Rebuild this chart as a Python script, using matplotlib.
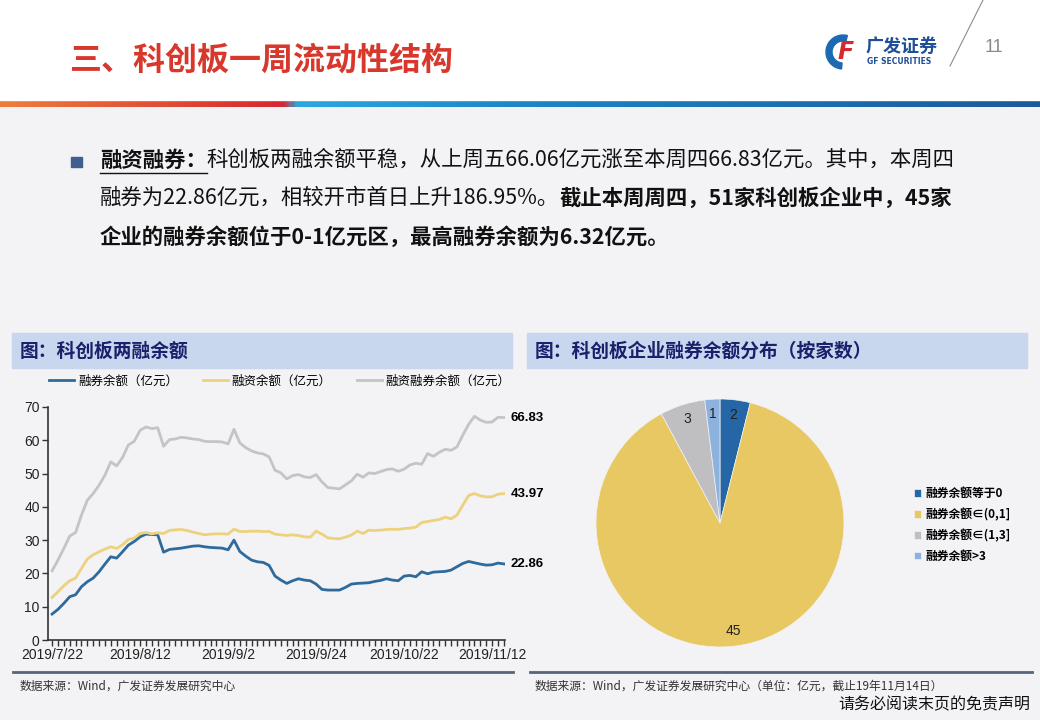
import numpy as np
import pandas as pd
import matplotlib
matplotlib.use("Agg")
import matplotlib.pyplot as plt
from matplotlib.patches import Rectangle, Wedge
from matplotlib.colors import LinearSegmentedColormap

plt.rcParams['font.family'] = ['Noto Sans CJK SC', 'DejaVu Sans']

W, H = 1040, 720

# 交易日（剔除中秋、国庆假期）
days = pd.bdate_range('2019-07-22', '2019-11-14')
holidays = pd.to_datetime(['2019-09-13', '2019-10-01', '2019-10-02',
                           '2019-10-03', '2019-10-04', '2019-10-07'])
days = days[~days.isin(holidays)]
tick_dates = ['2019-07-22', '2019-08-12', '2019-09-02', '2019-09-24', '2019-10-22', '2019-11-12']
tick_labels = ['2019/7/22', '2019/8/12', '2019/9/2', '2019/9/24', '2019/10/22', '2019/11/12']

# 融券余额（亿元）
rq = [7.8, 9.2, 11.0, 13.0, 13.6, 16.0, 17.5, 18.6, 20.5, 22.8,
      25.0, 24.6, 26.5, 28.5, 29.6, 31.0, 31.8, 31.7, 31.6, 26.4,
      27.2, 27.4, 27.6, 27.9, 28.2, 28.3, 28.0, 27.8, 27.7, 27.6,
      27.1, 30.0, 26.6, 25.2, 24.0, 23.5, 23.3, 22.4, 19.2, 18.0,
      17.0, 17.8, 18.4, 18.0, 17.8, 16.8, 15.2, 15.0, 15.0, 15.0,
      15.8, 16.8, 17.0, 17.1, 17.2, 17.6, 17.9, 18.4, 18.0, 17.8,
      19.2, 19.4, 19.0, 20.5, 19.9, 20.4, 20.5, 20.6, 21.0, 22.0,
      23.0, 23.6, 23.2, 22.8, 22.5, 22.6, 23.1, 22.86]
# 融资余额（亿元）
rz = [12.8, 14.5, 16.3, 17.8, 18.6, 21.5, 24.3, 25.6, 26.5, 27.3,
      28.0, 27.5, 28.6, 30.2, 30.6, 32.0, 32.3, 31.9, 32.2, 32.0,
      32.9, 33.1, 33.2, 32.9, 32.4, 32.0, 31.6, 31.8, 31.9, 31.9,
      31.8, 33.3, 32.6, 32.6, 32.7, 32.7, 32.6, 32.6, 31.8, 31.6,
      31.4, 31.6, 31.4, 31.0, 30.9, 32.7, 31.8, 30.7, 30.5, 30.4,
      30.9, 31.5, 32.7, 32.0, 33.0, 32.9, 33.0, 33.2, 33.3, 33.2,
      33.5, 33.6, 33.9, 35.3, 35.6, 35.9, 36.2, 36.9, 36.4, 37.5,
      40.5, 43.4, 44.0, 43.3, 43.0, 43.0, 43.8, 43.97]
# 融资融券余额（亿元）
total = [20.8, 24.0, 27.5, 31.2, 32.3, 37.5, 42.0, 44.0, 46.5, 49.5,
         53.5, 52.3, 54.8, 58.6, 59.7, 63.0, 64.0, 63.5, 63.8, 58.2,
         60.2, 60.4, 60.9, 60.7, 60.4, 60.2, 59.7, 59.6, 59.6, 59.5,
         58.9, 63.3, 59.2, 57.8, 56.8, 56.2, 55.9, 55.0, 51.0, 50.2,
         48.4, 49.4, 49.7, 49.0, 48.8, 49.7, 47.5, 45.8, 45.6, 45.4,
         46.6, 47.8, 49.8, 48.9, 50.2, 50.0, 50.6, 51.2, 51.4, 50.7,
         51.3, 52.6, 53.1, 52.8, 56.0, 55.2, 56.4, 57.3, 57.0, 58.0,
         61.5, 64.8, 67.2, 66.06, 65.4, 65.5, 66.9, 66.83]

pie_labels = ['融券余额等于0', '融券余额∈(0,1]', '融券余额∈(1,3]', '融券余额>3']
pie_counts = [2, 45, 3, 1]
pie_colors = ['#2466A6', '#E8C862', '#BFBFC1', '#8EB2DE']

fig = plt.figure(figsize=(W / 100, H / 100), dpi=100, facecolor='#F3F2F5')

# 背景层，像素坐标
bg = fig.add_axes([0, 0, 1, 1], zorder=-5)
bg.set_xlim(0, W)
bg.set_ylim(H, 0)
bg.axis('off')
bg.add_patch(Rectangle((0, 0), W, 100, color='white'))

# 彩色分隔条
cmap = LinearSegmentedColormap.from_list('band', [(0, '#EE7D3C'), (0.27, '#D6282F'), (0.285, '#2CA8DF'),
                                                  (0.5, '#1C86C6'), (1, '#1B5A9C')])
bg.imshow(np.linspace(0, 1, 400)[None, :], cmap=cmap, extent=(0, W, 107, 100), aspect='auto')

# 标题
bg.text(70, 61, '三、科创板一周流动性结构', fontsize=23, fontweight='bold', color='#D8372B', va='center')

# logo
bg.add_patch(Wedge((843, 52), 17, 95, 285, width=6, color='#1E6AB2'))
bg.text(846, 52, 'F', fontsize=17, fontweight='bold', style='italic', color='#D8282F',
        va='center', ha='center', family='DejaVu Sans')
bg.text(866, 46, '广发证券', fontsize=13, fontweight='bold', color='#1F4E96', va='center')
bg.text(867, 62, 'GF SECURITIES', fontsize=5.5, fontweight='bold', color='#1F4E96', va='center',
        family='DejaVu Sans')
bg.plot([983, 950], [0, 66], color='#8A8A8A', lw=0.8)
bg.text(985, 47, '11', fontsize=13, color='#8A8A8A', va='center', family='Liberation Sans')

# 正文
renderer = fig.canvas.get_renderer()


def chain(x, y, parts):
    out = []
    for s, weight in parts:
        t = bg.text(x, y, s, fontsize=15.4, fontweight=weight, color='#111111', va='center')
        bb = t.get_window_extent(renderer)
        out.append((x, bb.width))
        x += bb.width
    return out


bg.add_patch(Rectangle((71, 157), 11, 10, color='#3F5F8C'))
segs = chain(100, 160, [('融资融券：', 'bold'),
                        ('科创板两融余额平稳，从上周五66.06亿元涨至本周四66.83亿元。其中，本周四', 'normal')])
bg.plot([segs[0][0], segs[0][0] + segs[0][1]], [173, 173], color='#111111', lw=1)
chain(100, 198, [('融券为22.86亿元，相较开市首日上升186.95%。', 'normal'),
                 ('截止本周周四，51家科创板企业中，45家', 'bold')])
chain(100, 237, [('企业的融券余额位于0-1亿元区，最高融券余额为6.32亿元。', 'bold')])

# 图框标题
bg.add_patch(Rectangle((12, 333), 500, 35, color='#C8D6EE'))
bg.add_patch(Rectangle((527, 333), 500, 35, color='#C8D6EE'))
bg.text(20, 351, '图：科创板两融余额', fontsize=13.5, fontweight='bold', color='#1B1F6C', va='center')
bg.text(535, 351, '图：科创板企业融券余额分布（按家数）', fontsize=13.5, fontweight='bold',
        color='#1B1F6C', va='center')

# 底部
bg.plot([13, 513], [672, 672], color='#55667A', lw=2)
bg.plot([530, 1032], [672, 672], color='#55667A', lw=2)
bg.text(20, 686, '数据来源：Wind，广发证券发展研究中心', fontsize=8.5, color='#333333', va='center')
bg.text(535, 686, '数据来源：Wind，广发证券发展研究中心（单位：亿元，截止19年11月14日）', fontsize=8.5,
        color='#333333', va='center')
bg.text(1030, 705, '请务必阅读末页的免责声明', fontsize=11.5, color='#111111', va='center', ha='right')

# 折线图
ax = fig.add_axes([48 / W, 1 - 640 / H, 457 / W, 233 / H])
ax.set_facecolor('none')
x = np.arange(len(days))
l1, = ax.plot(x, rq, color='#2E6A9C', lw=2, label='融券余额（亿元）')
l2, = ax.plot(x, rz, color='#EDD27E', lw=2, label='融资余额（亿元）')
l3, = ax.plot(x, total, color='#C4C4C6', lw=2, label='融资融券余额（亿元）')
ax.set_xlim(-0.7, 77.2)
ax.set_ylim(0, 70)
ax.set_yticks(range(0, 71, 10))
ax.set_xticks([days.get_loc(pd.Timestamp(d)) for d in tick_dates])
ax.set_xticklabels(tick_labels)
ax.set_xticks(x, minor=True)
ax.tick_params(which='both', direction='out', length=4, width=1, color='#333333')
ax.tick_params(labelsize=10, labelcolor='#222222', pad=2)
for lab in ax.get_xticklabels() + ax.get_yticklabels():
    lab.set_family('Liberation Sans')
for side in ['top', 'right']:
    ax.spines[side].set_visible(False)
for side in ['left', 'bottom']:
    ax.spines[side].set_color('#333333')
    ax.spines[side].set_linewidth(1.2)
for series in (rq, rz, total):
    ax.annotate(f'{series[-1]:.2f}', xy=(x[-1], series[-1]), xytext=(5, 0), textcoords='offset points',
                va='center', fontsize=9.5, fontweight='bold', family='Liberation Sans',
                annotation_clip=False)
fig.legend(handles=[l1, l2, l3], loc='center', bbox_to_anchor=(280 / W, 1 - 381 / H), ncol=3,
           frameon=False, fontsize=9, handlelength=2.0, handletextpad=0.3, columnspacing=2.0)

# 饼图
ax2 = fig.add_axes([596 / W, 1 - 647 / H, 248 / W, 248 / H])
wedges, _, autotexts = ax2.pie(pie_counts, colors=pie_colors, startangle=90, counterclock=False,
                               autopct=lambda p: f'{p * sum(pie_counts) / 100:.0f}', pctdistance=0.88,
                               wedgeprops=dict(edgecolor='#F3F2F5', linewidth=0.5),
                               textprops=dict(fontsize=10, color='#222222', family='Liberation Sans'))
ax2.set_xlim(-1, 1)
ax2.set_ylim(-1, 1)
ax2.set_aspect('equal')
ax2.legend(wedges, pie_labels, loc='center left', bbox_to_anchor=(903 / W, 1 - 525 / H),
           bbox_transform=fig.transFigure, frameon=False, prop=dict(size=8.5, weight='bold'),
           handlelength=0.6, handleheight=0.6, handletextpad=0.4, labelspacing=0.65)

fig.savefig('out.png', dpi=100, facecolor=fig.get_facecolor())
